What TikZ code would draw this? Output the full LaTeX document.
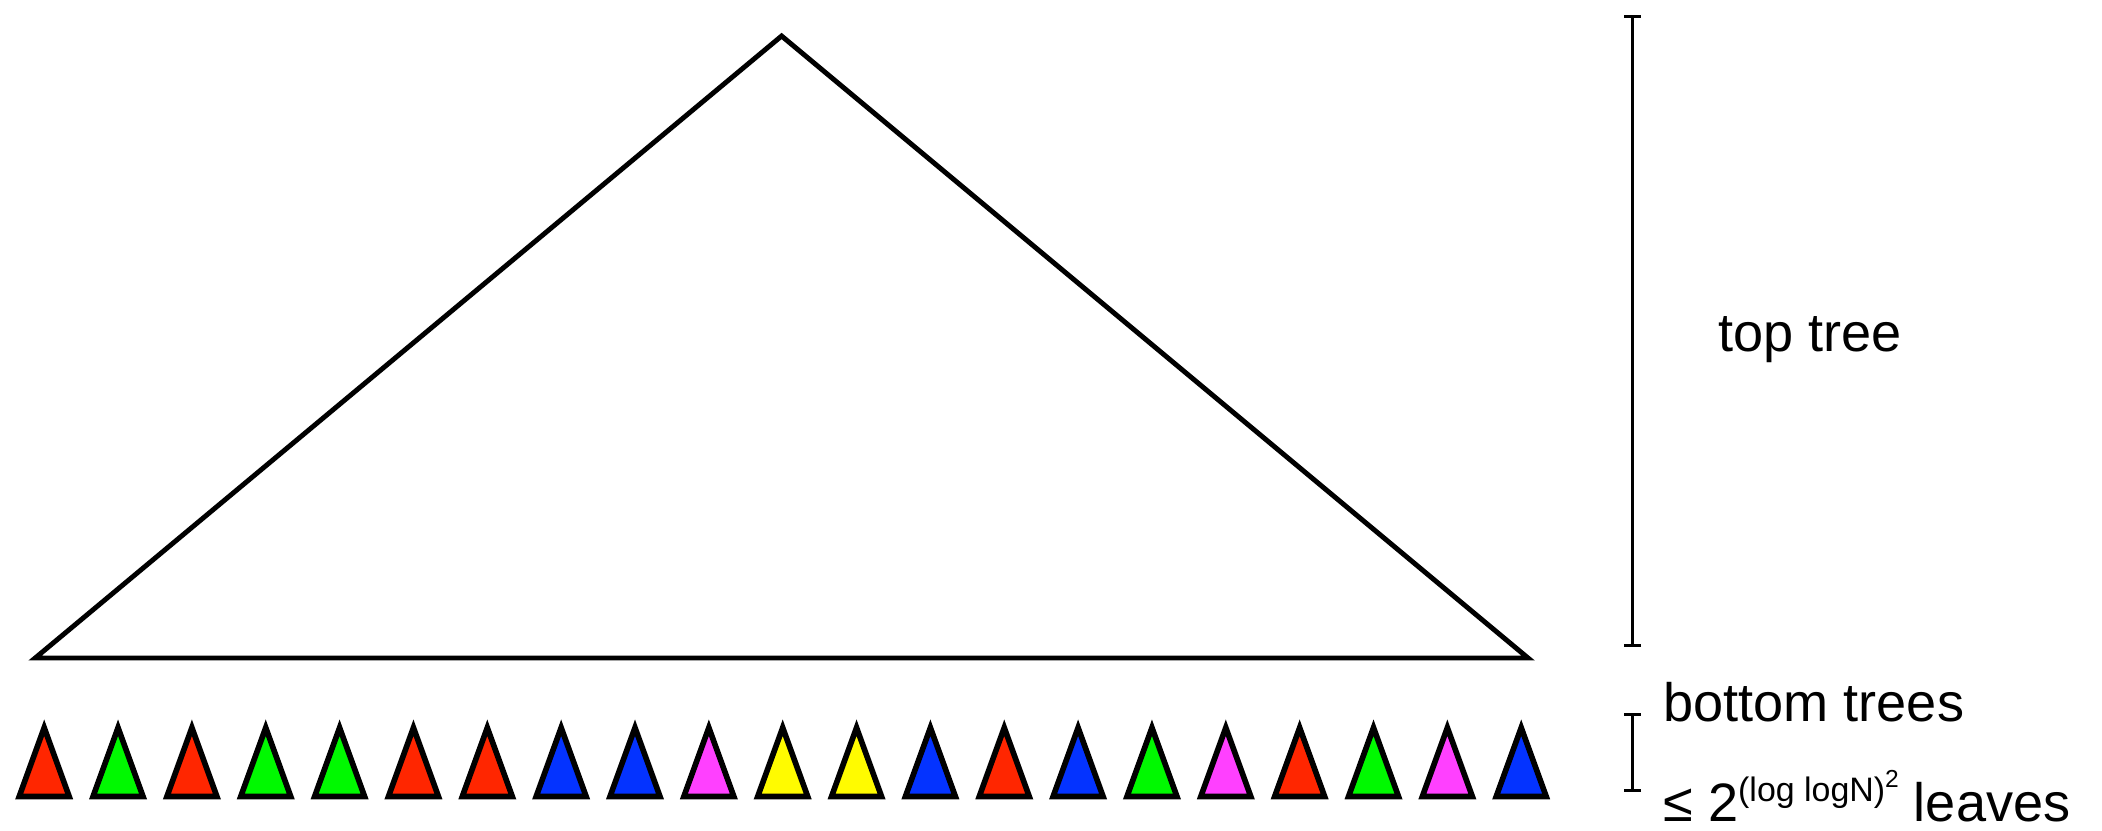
\documentclass[tikz,border=0pt]{standalone}
\usepackage{fontspec}
\setmainfont{Liberation Sans}
\usetikzlibrary{arrows.meta}
\definecolor{cred}{HTML}{FF2600}
\definecolor{cgreen}{HTML}{00F900}
\definecolor{cblue}{HTML}{0433FF}
\definecolor{cmag}{HTML}{FF40FF}
\definecolor{cyel}{HTML}{FFFB00}
\tikzset{
  bigtree/.style={draw=black, line width=2.8pt, line join=miter},
  smalltree/.style={draw=black, line width=3.2pt, line join=miter},
  measure/.style={draw=black, line width=1.5pt, {Bar[width=0.334cm]}-{Bar[width=0.334cm]}},
  label/.style={inner sep=0pt, anchor=base west, font=\fontsize{30.8}{36}\selectfont}
}
\begin{document}
\begin{tikzpicture}[x=0.02cm, y=-0.02cm]
\useasboundingbox (0,0) rectangle (2102,831);
% top tree
\coordinate (apex) at (781.6,36);
\coordinate (bl) at (35.2,658);
\coordinate (br) at (1528,658);
\draw[bigtree] (apex) -- (bl) -- (br) -- cycle;
% bottom trees
\foreach \c [count=\i from 0] in {cred,cgreen,cred,cgreen,cgreen,cred,cred,cblue,cblue,cmag,cyel,cyel,cblue,cred,cblue,cgreen,cmag,cred,cgreen,cmag,cblue}{
  \coordinate (t\i) at ({44.2+73.85*\i},727.7);
  \filldraw[smalltree, fill=\c] (t\i) -- ++(-25,68.8) -- ++(50,0) -- cycle;
}
% measures
\coordinate (mt1) at (1632.7,15);
\coordinate (mt2) at (1632.7,646.5);
\coordinate (mb1) at (1632.7,713);
\coordinate (mb2) at (1632.7,792);
\draw[measure] (mt1) -- (mt2);
\draw[measure] (mb1) -- (mb2);
% labels
\node[label] (toplab) at (1718,351.7) {top tree};
\node[label] (botlab) at (1663,721.7) {bottom trees};
\node[label, text depth=0pt] (leaflab) at (1663,821.5) {≤ 2\raisebox{11.3pt}{\fontsize{19.3}{21}\selectfont (log logN)\raisebox{7.9pt}{\fontsize{14}{16}\selectfont 2}} leaves};
\end{tikzpicture}
\end{document}
